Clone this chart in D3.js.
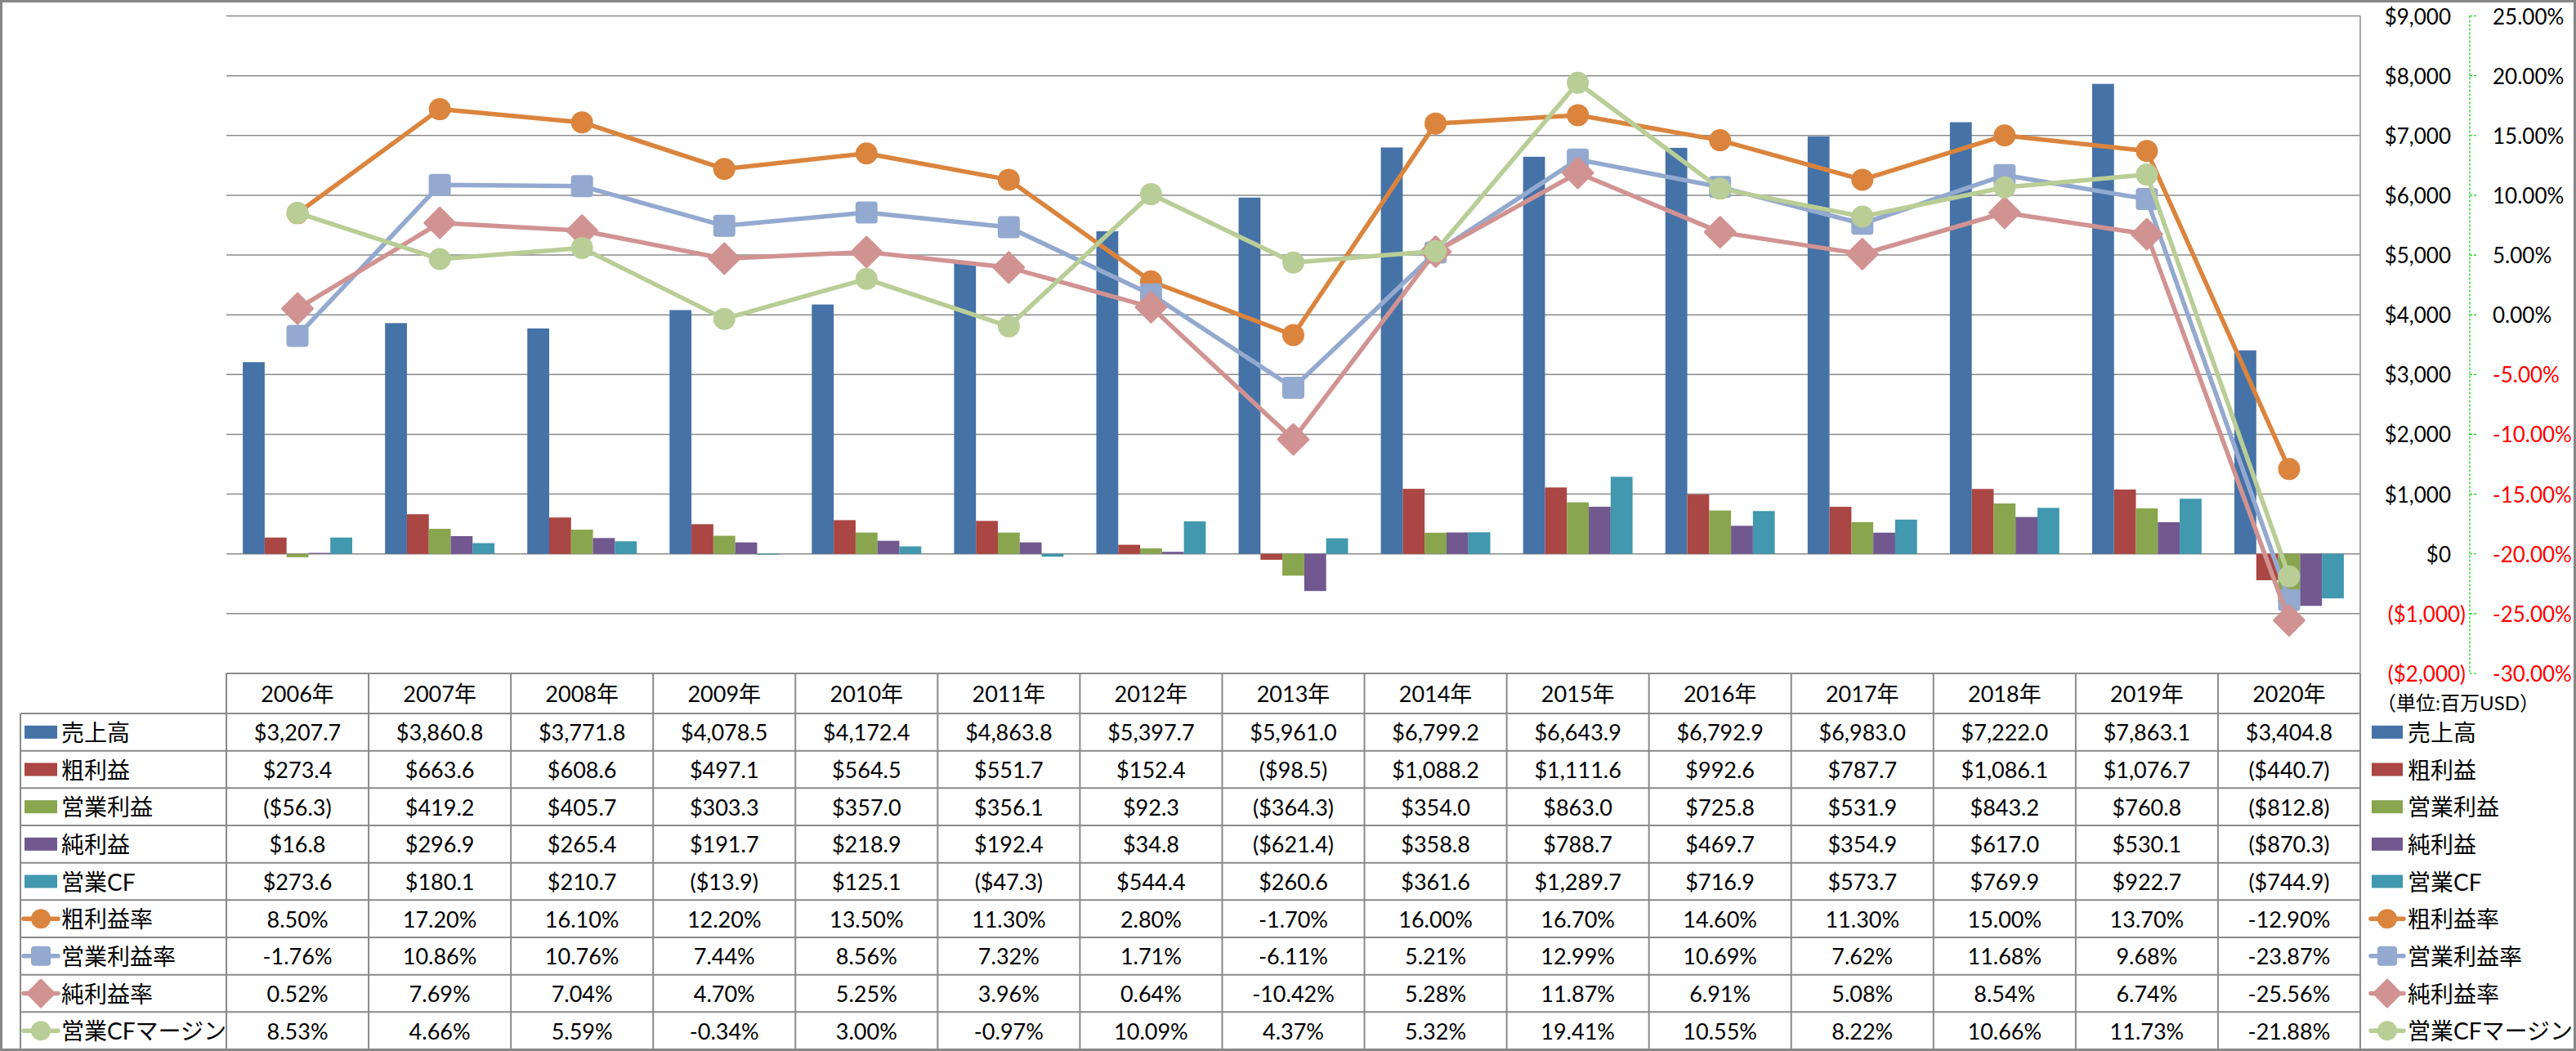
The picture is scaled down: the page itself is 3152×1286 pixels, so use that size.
<!DOCTYPE html>
<html><head><meta charset="utf-8">
<script src="https://cdn.jsdelivr.net/npm/d3@7"></script>
<style>
html,body{margin:0;padding:0;background:#fff;}
svg text{font-family:Lato,"Noto Sans CJK JP",sans-serif;}
</style></head>
<body>
<script>
const years = ["2006年","2007年","2008年","2009年","2010年","2011年","2012年","2013年","2014年","2015年","2016年","2017年","2018年","2019年","2020年"];
const barNames = ["売上高","粗利益","営業利益","純利益","営業CF"];
const lineNames = ["粗利益率","営業利益率","純利益率","営業CFマージン"];
const sales      = [3207.7,3860.8,3771.8,4078.5,4172.4,4863.8,5397.7,5961.0,6799.2,6643.9,6792.9,6983.0,7222.0,7863.1,3404.8];
const grossProfit= [273.4,663.6,608.6,497.1,564.5,551.7,152.4,-98.5,1088.2,1111.6,992.6,787.7,1086.1,1076.7,-440.7];
const opProfit   = [-56.3,419.2,405.7,303.3,357.0,356.1,92.3,-364.3,354.0,863.0,725.8,531.9,843.2,760.8,-812.8];
const netProfit  = [16.8,296.9,265.4,191.7,218.9,192.4,34.8,-621.4,358.8,788.7,469.7,354.9,617.0,530.1,-870.3];
const opCF       = [273.6,180.1,210.7,-13.9,125.1,-47.3,544.4,260.6,361.6,1289.7,716.9,573.7,769.9,922.7,-744.9];
const grossMargin= [8.50,17.20,16.10,12.20,13.50,11.30,2.80,-1.70,16.00,16.70,14.60,11.30,15.00,13.70,-12.90];
const opMargin   = [-1.76,10.86,10.76,7.44,8.56,7.32,1.71,-6.11,5.21,12.99,10.69,7.62,11.68,9.68,-23.87];
const netMargin  = [0.52,7.69,7.04,4.70,5.25,3.96,0.64,-10.42,5.28,11.87,6.91,5.08,8.54,6.74,-25.56];
const cfMargin   = [8.53,4.66,5.59,-0.34,3.00,-0.97,10.09,4.37,5.32,19.41,10.55,8.22,10.66,11.73,-21.88];
const leftTicks  = [9000,8000,7000,6000,5000,4000,3000,2000,1000,0,-1000,-2000];
const rightTicks = [25,20,15,10,5,0,-5,-10,-15,-20,-25,-30];
const unitLabel = "（単位:百万USD）";

const barValues = [sales,grossProfit,opProfit,netProfit,opCF];
const lineValues = [grossMargin,opMargin,netMargin,cfMargin];
const barColors = ["#4572A7","#AA4643","#89A54E","#71588F","#4198AF"];
const lineColors = ["#DB843D","#93A9CF","#D19392","#B9CD96"];
const markerTypes = ["circle","square","diamond","circle"];

const loc = d3.formatLocale({decimal:".",thousands:",",grouping:[3],currency:["$",""],minus:"-"});
const fmtPct = v => loc.format(".2f")(v)+"%";
const fmt1 = loc.format(",.1f");
const fmtD = loc.format(",");

const W=3152,H=1286;
const plotL=277, plotR=2888, plotT=19.5, plotB=824;
const svg=d3.select("body").append("svg").attr("width",W).attr("height",H);
svg.append("rect").attr("x",0).attr("y",0).attr("width",W).attr("height",H).attr("fill","#fff");

const x=d3.scaleBand().domain(years).range([plotL,plotR]);
const xb=d3.scaleBand().domain(barNames).range([0,x.bandwidth()]).paddingInner(0).paddingOuter(0.75);
const yL=d3.scaleLinear().domain([-2000,9000]).range([plotB,plotT]);
const yR=d3.scaleLinear().domain([-30,25]).range([plotB,plotT]);

// gridlines
svg.append("g").selectAll("line").data(leftTicks.filter(t=>t>-2000)).join("line")
 .attr("x1",plotL).attr("x2",plotR).attr("y1",d=>yL(d)).attr("y2",d=>yL(d))
 .attr("stroke","#8a8a8a").attr("stroke-width",1.5);
svg.append("line").attr("x1",plotR).attr("x2",plotR).attr("y1",plotT).attr("y2",plotB).attr("stroke","#8a8a8a").attr("stroke-width",1.5);

// bars
barNames.forEach((n,i)=>{
  svg.append("g").selectAll("rect").data(barValues[i]).join("rect")
   .attr("x",(d,j)=>x(years[j])+xb(n)).attr("width",xb.bandwidth())
   .attr("y",d=>yL(Math.max(0,d))).attr("height",d=>Math.abs(yL(d)-yL(0)))
   .attr("fill",barColors[i]);
});

function marker(g,type,cx,cy,color,s){
  if(type==="circle"){
    g.append("circle").attr("cx",cx).attr("cy",cy).attr("r",s/2).attr("fill",color);
  } else if(type==="square"){
    g.append("rect").attr("x",cx-s/2).attr("y",cy-s/2).attr("width",s).attr("height",s).attr("rx",4).attr("fill",color);
  } else {
    const h=s*0.68;
    g.append("path").attr("d",`M${cx},${cy-h}L${cx+h},${cy}L${cx},${cy+h}L${cx-h},${cy}Z`).attr("fill",color)
     .attr("stroke",color).attr("stroke-width",3).attr("stroke-linejoin","round");
  }
}
// lines
lineNames.forEach((n,i)=>{
  const g=svg.append("g");
  const line=d3.line().x((d,j)=>x(years[j])+x.bandwidth()/2).y(d=>yR(d));
  g.append("path").attr("d",line(lineValues[i])).attr("fill","none").attr("stroke",lineColors[i]).attr("stroke-width",5.5).attr("stroke-linejoin","round");
  lineValues[i].forEach((v,j)=>marker(g,markerTypes[i],x(years[j])+x.bandwidth()/2,yR(v),lineColors[i],27));
});

// primary axis labels (right)
svg.append("g").selectAll("text").data(leftTicks).join("text")
 .attr("x",d=>d<0?3017:2999).attr("y",d=>yL(d)).attr("text-anchor","end").attr("dominant-baseline","central")
 .attr("font-size",26).attr("fill",d=>d<0?"#FF0000":"#000")
 .text(d=>d<0?`($${fmtD(-d)})`:`$${fmtD(d)}`);
// secondary axis (green dashed)
const axX=3022;
svg.append("line").attr("x1",axX).attr("x2",axX).attr("y1",plotT).attr("y2",plotB).attr("stroke","#00CC00").attr("stroke-width",1.2).attr("stroke-dasharray","3,2");
svg.append("g").selectAll("line").data(rightTicks).join("line")
 .attr("x1",axX).attr("x2",axX+9).attr("y1",d=>yR(d)).attr("y2",d=>yR(d)).attr("stroke","#00CC00").attr("stroke-width",1.2).attr("stroke-dasharray","3,2");
svg.append("g").selectAll("text").data(rightTicks).join("text")
 .attr("x",3050).attr("y",d=>yR(d)).attr("dominant-baseline","central")
 .attr("font-size",26).attr("fill",d=>d<0?"#FF0000":"#000")
 .text(d=>fmtPct(d));

// data table
const rowH=(1284-873)/9;
const hdrT=824, hdrB=873, legL=25;
const tg=svg.append("g");
const gridC="#8a8a8a";
tg.append("line").attr("x1",plotL).attr("x2",plotR).attr("y1",hdrT).attr("y2",hdrT).attr("stroke",gridC).attr("stroke-width",2);
for(let r=0;r<=9;r++){
  const yy=hdrB+r*rowH;
  tg.append("line").attr("x1",legL).attr("x2",plotR).attr("y1",yy).attr("y2",yy).attr("stroke",gridC).attr("stroke-width",2);
}
tg.append("line").attr("x1",legL).attr("x2",legL).attr("y1",hdrB).attr("y2",1284).attr("stroke",gridC).attr("stroke-width",2);
years.forEach(yr=>{
  tg.append("line").attr("x1",x(yr)).attr("x2",x(yr)).attr("y1",hdrT).attr("y2",1284).attr("stroke",gridC).attr("stroke-width",2);
});
tg.append("line").attr("x1",plotR).attr("x2",plotR).attr("y1",hdrT).attr("y2",1284).attr("stroke",gridC).attr("stroke-width",2);
tg.selectAll("text.hdr").data(years).join("text").attr("class","hdr")
 .attr("x",d=>x(d)+x.bandwidth()/2).attr("y",(hdrT+hdrB)/2).attr("text-anchor","middle").attr("dominant-baseline","central")
 .attr("font-size",27).text(d=>d);
const allRows=[...barValues.map(a=>a.map(v=>v<0?`($${fmt1(-v)})`:`$${fmt1(v)}`)), ...lineValues.map(a=>a.map(v=>fmtPct(v)))];
const allNames=[...barNames,...lineNames];
allRows.forEach((row,r)=>{
  const cy=hdrB+(r+0.5)*rowH;
  tg.append("g").selectAll("text").data(row).join("text")
   .attr("x",(d,j)=>x(years[j])+x.bandwidth()/2).attr("y",cy).attr("text-anchor","middle").attr("dominant-baseline","central")
   .attr("font-size",27).text(d=>d);
});
function legendKey(g,r,x0,x1){
  const cy=hdrB+(r+0.5)*rowH;
  if(r<5){
    g.append("rect").attr("x",x0).attr("y",cy-8).attr("width",x1-x0).attr("height",16).attr("fill",barColors[r]);
  } else {
    const i=r-5;
    g.append("line").attr("x1",x0-1).attr("x2",x1+1).attr("y1",cy).attr("y2",cy).attr("stroke",lineColors[i]).attr("stroke-width",5.5).attr("stroke-linecap","round");
    marker(g,markerTypes[i],(x0+x1)/2,cy,lineColors[i],24);
  }
}
allNames.forEach((n,r)=>{
  const cy=hdrB+(r+0.5)*rowH;
  legendKey(tg,r,30,70);
  tg.append("text").attr("x",75).attr("y",cy).attr("dominant-baseline","central").attr("font-size",28).text(n);
  legendKey(tg,r,2902,2940);
  tg.append("text").attr("x",2946).attr("y",cy).attr("dominant-baseline","central").attr("font-size",28).text(n);
});
svg.append("text").attr("x",2908).attr("y",859).attr("dominant-baseline","central").attr("font-size",24).text(unitLabel);

// outer frame
svg.append("rect").attr("x",1.5).attr("y",1.5).attr("width",W-3).attr("height",H-3).attr("fill","none").attr("stroke","#868686").attr("stroke-width",3);
</script>
</body></html>
